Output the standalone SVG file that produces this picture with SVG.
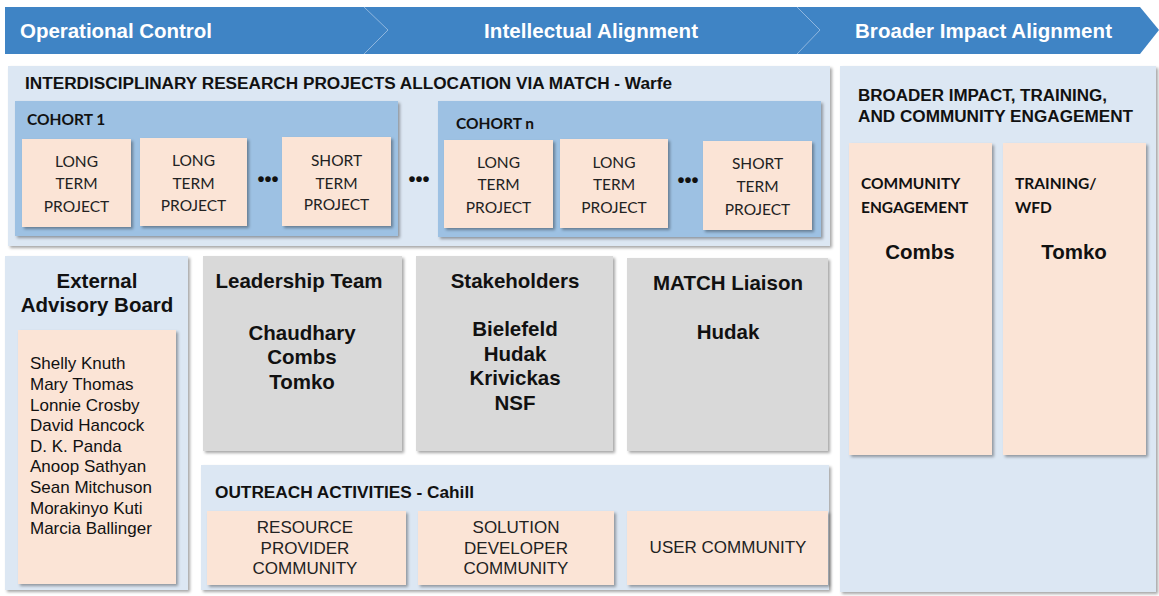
<svg xmlns="http://www.w3.org/2000/svg" width="1159" height="596" viewBox="0 0 1159 596">
<defs>
<filter id="sh" x="-10%" y="-10%" width="130%" height="130%">
<feDropShadow dx="2" dy="2" stdDeviation="1.5" flood-color="#000" flood-opacity="0.35"/>
</filter>
<style>
.banner{fill:#3f84c5}
.sep{fill:none;stroke:#8fb6de;stroke-width:1}
.bt{font-family:"Liberation Sans",Arial,sans-serif;font-weight:bold;font-size:20.5px;fill:#fff}
.panel{fill:#dce7f3;filter:url(#sh)}
.cohort{fill:#9dc1e3;filter:url(#sh)}
.peach{fill:#fbe4d6;filter:url(#sh)}
.grey{fill:#d9d9d9;filter:url(#sh)}
.h14{font-family:"Liberation Sans",Arial,sans-serif;font-weight:bold;font-size:16px;fill:#111}
.cal{font-family:Lato,"Open Sans",sans-serif;font-size:15.5px;fill:#222}
.calb{font-family:Lato,"Open Sans",sans-serif;font-weight:bold;font-size:15.5px;fill:#111}
.h19{font-family:"Liberation Sans",Arial,sans-serif;font-weight:bold;font-size:20.5px;fill:#111}
.h18{font-family:"Liberation Sans",Arial,sans-serif;font-weight:bold;font-size:20.5px;fill:#111}
.nm{font-family:"Liberation Sans",Arial,sans-serif;font-size:17px;fill:#111}
.oc{font-family:"Liberation Sans",Arial,sans-serif;font-size:17px;fill:#222}
.dots{font-family:"Liberation Sans",Arial,sans-serif;font-weight:bold;font-size:20px;fill:#111}
</style>
</defs>
<g id="banner">
<path class="banner" d="M5,7 H1140 L1159,30 L1140,54 H5 Z"/>
<path class="sep" d="M364,7 L388,30 L364,54"/>
<path class="sep" d="M797,7 L820,30 L797,54"/>
<text class="bt" x="20" y="38" textLength="192">Operational Control</text>
<text class="bt" x="484" y="38" textLength="214">Intellectual Alignment</text>
<text class="bt" x="855" y="38" textLength="257">Broader Impact Alignment</text>
</g>
<g id="research-projects">
<rect class="panel" x="8" y="66" width="822" height="180"/>
<text class="h14" x="25" y="89" textLength="647" lengthAdjust="spacingAndGlyphs">INTERDISCIPLINARY RESEARCH PROJECTS ALLOCATION VIA MATCH - Warfe</text>
</g>
<g id="cohort-1">
<rect class="cohort" x="15" y="101" width="383" height="135"/>
<text class="calb" x="27" y="125">COHORT 1</text>
<rect class="peach" x="22" y="139" width="109" height="88"/>
<text class="cal" text-anchor="middle"><tspan x="76.5" y="167">LONG</tspan><tspan x="76.5" y="189">TERM</tspan><tspan x="76.5" y="212">PROJECT</tspan></text>
<rect class="peach" x="140" y="138" width="107" height="88"/>
<text class="cal" text-anchor="middle"><tspan x="193.5" y="166">LONG</tspan><tspan x="193.5" y="189">TERM</tspan><tspan x="193.5" y="211">PROJECT</tspan></text>
<text class="dots" x="268" y="186" text-anchor="middle">•••</text>
<rect class="peach" x="282" y="137" width="109" height="89"/>
<text class="cal" text-anchor="middle"><tspan x="336.5" y="166">SHORT</tspan><tspan x="336.5" y="189">TERM</tspan><tspan x="336.5" y="210">PROJECT</tspan></text>
</g>
<text class="dots" x="419" y="186" text-anchor="middle">•••</text>
<g id="cohort-n">
<rect class="cohort" x="438" y="101" width="383" height="136"/>
<text class="calb" x="456" y="129">COHORT n</text>
<rect class="peach" x="444" y="140" width="109" height="88"/>
<text class="cal" text-anchor="middle"><tspan x="498.5" y="168">LONG</tspan><tspan x="498.5" y="190">TERM</tspan><tspan x="498.5" y="213">PROJECT</tspan></text>
<rect class="peach" x="560" y="139" width="108" height="89"/>
<text class="cal" text-anchor="middle"><tspan x="614" y="168">LONG</tspan><tspan x="614" y="190">TERM</tspan><tspan x="614" y="213">PROJECT</tspan></text>
<text class="dots" x="688" y="187" text-anchor="middle">•••</text>
<rect class="peach" x="703" y="141" width="109" height="89"/>
<text class="cal" text-anchor="middle"><tspan x="757.5" y="169">SHORT</tspan><tspan x="757.5" y="192">TERM</tspan><tspan x="757.5" y="215">PROJECT</tspan></text>
</g>
<g id="broader-impact">
<rect class="panel" x="840" y="66" width="316" height="526"/>
<text class="h14" x="858" y="101" textLength="249" lengthAdjust="spacingAndGlyphs">BROADER IMPACT, TRAINING,</text>
<text class="h14" x="858" y="122" textLength="275" lengthAdjust="spacingAndGlyphs">AND COMMUNITY ENGAGEMENT</text>
</g>
<g id="community-engagement">
<rect class="peach" x="849" y="143" width="143" height="312"/>
<text class="calb"><tspan x="861" y="189">COMMUNITY</tspan><tspan x="861" y="213">ENGAGEMENT</tspan></text>
<text class="h18" x="920" y="259" text-anchor="middle">Combs</text>
</g>
<g id="training">
<rect class="peach" x="1003" y="143" width="143" height="312"/>
<text class="calb"><tspan x="1015" y="189">TRAINING/</tspan><tspan x="1015" y="213">WFD</tspan></text>
<text class="h18" x="1074" y="259" text-anchor="middle">Tomko</text>
</g>
<g id="external-advisory-board">
<rect class="panel" x="5" y="256" width="183" height="334"/>
<text class="h19" text-anchor="middle"><tspan x="97" y="288">External</tspan><tspan x="97" y="312">Advisory Board</tspan></text>
<rect class="peach" x="18" y="330" width="158" height="254"/>
<text class="nm"><tspan x="30" y="369">Shelly Knuth</tspan><tspan x="30" y="390">Mary Thomas</tspan><tspan x="30" y="411">Lonnie Crosby</tspan><tspan x="30" y="431">David Hancock</tspan><tspan x="30" y="452">D. K. Panda</tspan><tspan x="30" y="472">Anoop Sathyan</tspan><tspan x="30" y="493">Sean Mitchuson</tspan><tspan x="30" y="514">Morakinyo Kuti</tspan><tspan x="30" y="534">Marcia Ballinger</tspan></text>
</g>
<g id="leadership-team">
<rect class="grey" x="203" y="256" width="199" height="195"/>
<text class="h18" x="299" y="288" text-anchor="middle">Leadership Team</text>
<text class="h18" text-anchor="middle"><tspan x="302" y="340">Chaudhary</tspan><tspan x="302" y="364">Combs</tspan><tspan x="302" y="389">Tomko</tspan></text>
</g>
<g id="stakeholders">
<rect class="grey" x="416" y="256" width="197" height="195"/>
<text class="h18" x="515" y="288" text-anchor="middle">Stakeholders</text>
<text class="h18" text-anchor="middle"><tspan x="515" y="336">Bielefeld</tspan><tspan x="515" y="361">Hudak</tspan><tspan x="515" y="385">Krivickas</tspan><tspan x="515" y="410">NSF</tspan></text>
</g>
<g id="match-liaison">
<rect class="grey" x="627" y="258" width="201" height="193"/>
<text class="h18" x="728" y="290" text-anchor="middle">MATCH Liaison</text>
<text class="h18" x="728" y="339" text-anchor="middle">Hudak</text>
</g>
<g id="outreach">
<rect class="panel" x="201" y="465" width="628" height="125"/>
<text class="h14" x="215" y="498" textLength="259" lengthAdjust="spacingAndGlyphs">OUTREACH ACTIVITIES - Cahill</text>
</g>
<g id="resource-provider">
<rect class="peach" x="207" y="511" width="199" height="74"/>
<text class="oc" text-anchor="middle"><tspan x="305" y="533">RESOURCE</tspan><tspan x="305" y="554">PROVIDER</tspan><tspan x="305" y="574">COMMUNITY</tspan></text>
</g>
<g id="solution-developer">
<rect class="peach" x="418" y="511" width="196" height="74"/>
<text class="oc" text-anchor="middle"><tspan x="516" y="533">SOLUTION</tspan><tspan x="516" y="554">DEVELOPER</tspan><tspan x="516" y="574">COMMUNITY</tspan></text>
</g>
<g id="user-community">
<rect class="peach" x="627" y="511" width="201" height="74"/>
<text class="oc" x="728" y="553" text-anchor="middle">USER COMMUNITY</text>
</g>
<g id="connectors"/>
</svg>
